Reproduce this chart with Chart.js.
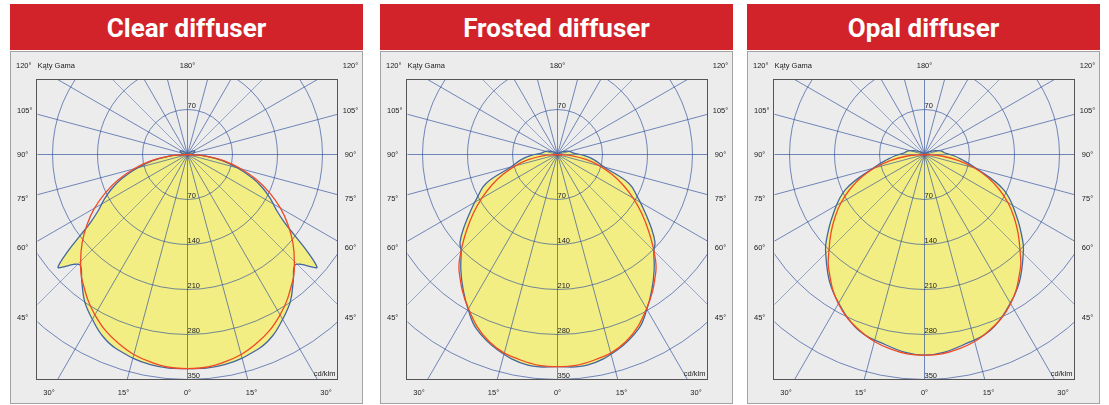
<!DOCTYPE html>
<html>
<head>
<meta charset="utf-8">
<script src="https://cdn.jsdelivr.net/npm/chart.js@4.4.1/dist/chart.umd.min.js"></script>
<style>
  html, body { margin: 0; padding: 0; background: #fff; }
  body { width: 1109px; height: 405px; position: relative; overflow: hidden; }
  .head {
    position: absolute; top: 4px; width: 353px; height: 46px;
    background: #d2232a; color: #fff; text-align: center;
    font: bold 26px Roboto, sans-serif; line-height: 49px; overflow: hidden;
  }
  .panel {
    position: absolute; top: 51px; width: 351px; height: 351px;
    border: 1px solid #a3a3a3; background: #ececec;
  }
  .panel canvas { position: absolute; left: 0; top: 0; }
</style>
</head>
<body>
<div class="head" style="left:10px">Clear diffuser</div>
<div class="panel" style="left:10px"><canvas id="clearChart" width="351" height="351"></canvas></div>
<div class="head" style="left:380px">Frosted diffuser</div>
<div class="panel" style="left:380px"><canvas id="frostedChart" width="351" height="351"></canvas></div>
<div class="head" style="left:747px">Opal diffuser</div>
<div class="panel" style="left:747px"><canvas id="opalChart" width="351" height="351"></canvas></div>

<script>
// Rings (cd/klm) and angle labels
const ringTicks = [70, 140, 210, 280, 350];
const topLabels = ['120°', '180°', '120°'];
const sideLabels = ['105°', '90°', '75°', '60°', '45°'];
const bottomLabels = ['30°', '15°', '0°', '15°', '30°'];

// Gamma angles (deg from straight down) and intensities (cd/klm)
const clearBlueGamma = [0, 10, 20, 25, 30, 35, 40, 44, 46, 48, 49, 51, 53, 55, 58, 62, 66, 70, 75, 80, 85, 90, 100, 110, 120, 130, 140, 180];
const clearBlue = [333, 332, 322, 312, 296, 279, 256, 240, 246, 262, 267, 240, 208, 184, 163, 146, 128, 108, 80, 55, 28, 6, 8, 12, 12, 6, 0, 0];

const frostedBlueGamma = [0, 8, 17, 25, 30, 35, 40, 45, 48, 52, 58, 62, 68, 75, 82, 88, 95, 100, 105, 110, 120, 130, 140, 180];
const frostedBlue = [330, 331, 318, 299, 278, 256, 234, 212, 204, 185, 157, 141, 120, 75, 57, 41, 25, 22, 19, 15, 9, 4, 0, 0];

const opalBlueGamma = [0, 15, 22, 30, 37, 46, 49, 56, 66, 76, 82, 88, 95, 100, 105, 110, 120, 130, 140, 180];
const opalBlue = [312, 299, 289, 267, 246, 214, 202, 173, 135, 79, 59, 45, 31, 28, 23, 17, 9, 3, 0, 0];

const redGamma = [0, 10, 20, 30, 40, 45, 50, 55, 60, 65, 70, 75, 80, 85, 90];
const clearRed = [333, 328, 313, 288, 255, 235, 214, 191, 167, 141, 114, 86, 58, 29, 0];
const frostedRed = [330, 325, 310, 277, 238, 212, 185, 160, 136, 113, 90, 68, 46, 23, 0];
const opalRed = [312, 307, 292, 268, 232, 210, 190, 170, 150, 128, 105, 80, 54, 27, 0];

// symmetric polar curve -> points, from the top on the left, round the bottom, back up on the right
function polarPoints(gamma, values) {
    const pts = [];
    for (let i = gamma.length - 1; i >= 0; i--) {
        const g = gamma[i] * Math.PI / 180;
        pts.push({ x: -values[i] * Math.sin(g), y: -values[i] * Math.cos(g) });
    }
    for (let i = 1; i < gamma.length; i++) {
        const g = gamma[i] * Math.PI / 180;
        pts.push({ x: values[i] * Math.sin(g), y: -values[i] * Math.cos(g) });
    }
    return pts;
}

const labelFont = '7.5px "Liberation Sans", Arial, sans-serif';

const polarGrid = {
    id: 'polarGrid',
    afterDatasetDraw(chart, args) {
        if (args.index !== 2) return;
        const ctx = chart.ctx, a = chart.chartArea;
        const xs = chart.scales.x, ys = chart.scales.y;
        const cx = xs.getPixelForValue(0), cy = ys.getPixelForValue(0);
        ctx.save();
        ctx.beginPath();
        ctx.rect(a.left, a.top, a.right - a.left, a.bottom - a.top);
        ctx.clip();
        ctx.lineWidth = 1;
        ctx.setLineDash([]);
        ctx.strokeStyle = 'rgba(45, 78, 155, 0.65)';
        ringTicks.forEach(function(r) {
            const rp = xs.getPixelForValue(r) - cx;
            ctx.beginPath();
            ctx.arc(cx, cy, rp, 0, Math.PI * 2);
            ctx.stroke();
        });
        for (let deg = 0; deg < 360; deg += 15) {
            const t = deg * Math.PI / 180;
            // diagonals rasterise crisper, so tone them down a little
            ctx.strokeStyle = deg % 90 === 45 ? 'rgba(45, 78, 155, 0.45)' : 'rgba(45, 78, 155, 0.65)';
            ctx.beginPath();
            ctx.moveTo(cx, cy);
            ctx.lineTo(cx + 400 * Math.sin(t), cy + 400 * Math.cos(t));
            ctx.stroke();
        }
        ctx.restore();
    },
    afterDraw(chart) {
        const ctx = chart.ctx, a = chart.chartArea;
        const xs = chart.scales.x, ys = chart.scales.y;
        const cx = xs.getPixelForValue(0), cy = ys.getPixelForValue(0);
        ctx.save();
        ctx.strokeStyle = '#555';
        ctx.lineWidth = 1;
        ctx.strokeRect(a.left - 1, a.top, a.right - a.left + 1, a.bottom - a.top);

        ctx.font = labelFont;
        ctx.fillStyle = '#222';
        ctx.textBaseline = 'middle';
        // top row
        const ty = a.top - 13.5;
        ctx.textAlign = 'left';
        ctx.fillText(topLabels[0], a.left - 21.5, ty);
        ctx.fillText('Kąty Gama', a.left, ty);
        ctx.textAlign = 'center';
        ctx.fillText(topLabels[1], cx, ty);
        ctx.fillText(topLabels[2], a.right + 13, ty);
        // side rows
        const sideDy = [-43.6, 0, 44, 93.5, 163.5];
        sideLabels.forEach(function(t, i) {
            ctx.textAlign = 'left';
            ctx.fillText(t, a.left - 20.5, cy + sideDy[i]);
            ctx.textAlign = 'center';
            ctx.fillText(t, a.right + 13, cy + sideDy[i]);
        });
        // bottom row
        const bottomDx = [-138.5, -64, 0, 64, 138.5];
        ctx.textAlign = 'center';
        bottomLabels.forEach(function(t, i) {
            ctx.fillText(t, cx + bottomDx[i], a.bottom + 13.5);
        });
        // ring values
        ctx.textAlign = 'left';
        ctx.textBaseline = 'alphabetic';
        ringTicks.forEach(function(r) {
            [ys.getPixelForValue(-r), ys.getPixelForValue(r)].forEach(function(py) {
                const by = py - 1.5;
                if (by - 6 > a.top && by <= a.bottom) ctx.fillText(String(r), cx, by);
            });
        });
        ctx.textAlign = 'right';
        ctx.fillText('cd/klm', a.right - 2, a.bottom - 4);
        ctx.restore();
    }
};

function makeChart(id, blueGamma, blue, red) {
    const ctx = document.getElementById(id).getContext('2d');
    const bluePts = polarPoints(blueGamma, blue);
    new Chart(ctx, {
        type: 'scatter',
        data: {
            datasets: [
                {
                    label: 'C0-C180',
                    data: polarPoints(redGamma, red),
                    showLine: true,
                    borderColor: '#ef4a25',
                    borderWidth: 1.3,
                    pointRadius: 0,
                    tension: 0.4,
                    fill: false
                },
                {
                    label: 'C90-C270',
                    data: bluePts,
                    showLine: true,
                    borderColor: '#44679e',
                    borderWidth: 1.3,
                    pointRadius: 0,
                    tension: 0.4,
                    fill: false
                },
                {
                    label: 'fill',
                    data: bluePts,
                    showLine: true,
                    borderWidth: 0,
                    borderColor: 'rgba(0,0,0,0)',
                    backgroundColor: '#f2ee84',
                    pointRadius: 0,
                    tension: 0.4,
                    fill: 'shape'
                }
            ]
        },
        options: {
            responsive: false,
            animation: false,
            events: [],
            layout: { padding: { left: 26.5, top: 27.5, right: 24.5, bottom: 23.5 } },
            scales: {
                x: { type: 'linear', min: -700 / 3, max: 700 / 3, display: false },
                y: { type: 'linear', min: -350, max: 350 / 3, display: false }
            },
            plugins: {
                legend: { display: false },
                tooltip: { enabled: false }
            }
        },
        plugins: [polarGrid]
    });
}

makeChart('clearChart', clearBlueGamma, clearBlue, clearRed);
makeChart('frostedChart', frostedBlueGamma, frostedBlue, frostedRed);
makeChart('opalChart', opalBlueGamma, opalBlue, opalRed);
</script>
</body>
</html>
